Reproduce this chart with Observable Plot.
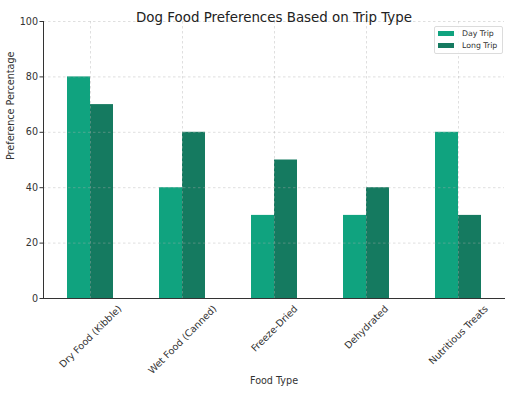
<!DOCTYPE html>
<html>
<head>
<meta charset="utf-8">
<script src="https://cdn.jsdelivr.net/npm/d3@7"></script>
<script src="https://cdn.jsdelivr.net/npm/@observablehq/plot@0.6"></script>
<style>
  html, body { margin: 0; padding: 0; background: #fff; }
  #wrap { position: relative; width: 512px; height: 395px; font-family: "DejaVu Sans", sans-serif; }
  #legend { position: absolute; left: 434px; top: 26px; width: 69px; height: 28px; border: 1px solid #dcdcdc; border-radius: 2px; background: rgba(255,255,255,0.85); box-sizing: border-box; font-size: 7.8px; color: #333; }
  .row { position: absolute; left: 3px; height: 10px; display: flex; align-items: center; }
  .sw { width: 16px; height: 5px; margin-right: 8px; }
</style>
</head>
<body>
<div id="wrap"></div>
<script>
const categories = ["Dry Food (Kibble)", "Wet Food (Canned)", "Freeze-Dried", "Dehydrated", "Nutritious Treats"];
const dayTrip = [80, 40, 30, 30, 60];
const longTrip = [70, 60, 50, 40, 30];
const series = ["Day Trip", "Long Trip"];
const colors = ["#10a37f", "#157a60"];
const yTicks = [0, 20, 40, 60, 80, 100];

const font = "DejaVu Sans";
const tickFs = 9.6;
const ctx = document.createElement("canvas").getContext("2d");
ctx.font = `${tickFs}px "${font}"`;

const grid = {stroke: "#b0b0b0", strokeOpacity: 0.5, strokeDasharray: "2.5,2.5", strokeWidth: 0.8};

const labelMarks = categories.map(c => {
  const L = ctx.measureText(c).width;
  const h = tickFs * 1.1;
  return Plot.text([c], {
    x: d => d, frameAnchor: "bottom", rotate: -45,
    textAnchor: "middle", lineAnchor: "middle",
    dy: 5 + (L + h) * 0.3536, fontSize: tickFs, fill: "#333"
  });
});

const plot = Plot.plot({
  width: 512, height: 395,
  marginLeft: 43, marginRight: 8, marginTop: 21, marginBottom: 97,
  style: {fontFamily: font, background: "white", overflow: "visible"},
  x: {type: "band", domain: categories, paddingInner: 0.505, paddingOuter: 0.231, axis: null},
  y: {domain: [0, 100], axis: null},
  marks: [
    Plot.barY(categories, {x: d => d, y: (d, i) => dayTrip[i], fill: colors[0], insetRight: 23}),
    Plot.barY(categories, {x: d => d, y: (d, i) => longTrip[i], fill: colors[1], insetLeft: 23}),
    Plot.gridY(yTicks, grid),
    Plot.gridX(categories, grid),
    Plot.axisY(yTicks, {tickSize: 3.5, tickPadding: 2, fontSize: tickFs, label: null, stroke: "#333", fill: "#333"}),
    Plot.frame({anchor: "left", stroke: "#333", strokeWidth: 1}),
    Plot.frame({anchor: "bottom", stroke: "#333", strokeWidth: 1}),
    ...labelMarks,
    Plot.text(["Preference Percentage"], {frameAnchor: "left", dx: -33, rotate: -90, fontSize: tickFs, fill: "#333"}),
    Plot.text(["Food Type"], {frameAnchor: "bottom", dy: 85, fontSize: tickFs, fill: "#333"}),
    Plot.text(["Dog Food Preferences Based on Trip Type"], {frameAnchor: "top", dy: -9.5, fontSize: 13.4, fill: "#222"})
  ]
});

const wrap = document.getElementById("wrap");
wrap.appendChild(plot);
const legend = document.createElement("div");
legend.id = "legend";
series.forEach((s, i) => {
  const row = document.createElement("div");
  row.className = "row";
  row.style.top = (1.5 + i * 12) + "px";
  const sw = document.createElement("span");
  sw.className = "sw";
  sw.style.background = colors[i];
  const t = document.createElement("span");
  t.textContent = s;
  row.appendChild(sw); row.appendChild(t);
  legend.appendChild(row);
});
wrap.appendChild(legend);
</script>
</body>
</html>
